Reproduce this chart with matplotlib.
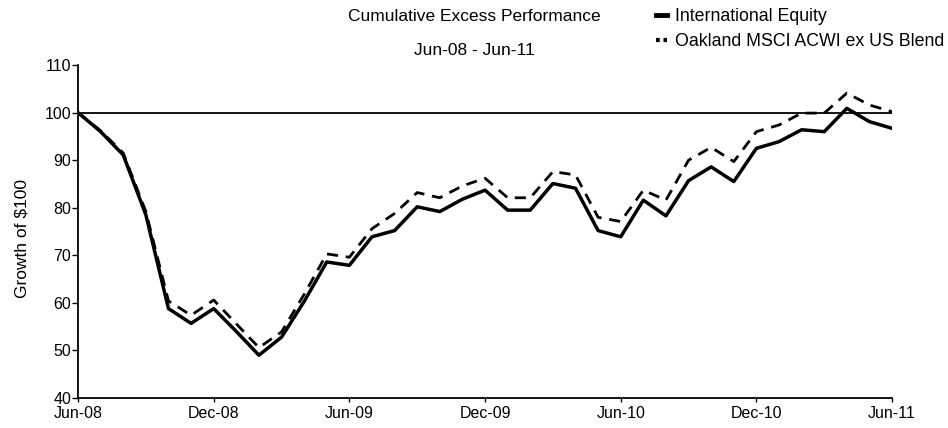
import numpy as np
import pandas as pd
import matplotlib.pyplot as plt
from matplotlib.lines import Line2D

plt.rcParams['font.family'] = ['Liberation Sans', 'DejaVu Sans']

# month-end values, growth of $100 from Jun-08
months = pd.date_range('2008-06-30', '2011-06-30', freq='ME')
intl_equity = [100.0, 96.0, 91.1, 78.5, 58.8, 55.7, 58.8, 54.0, 49.0, 52.8,
               60.3, 68.6, 67.9, 73.9, 75.2, 80.2, 79.2, 81.8, 83.7, 79.5,
               79.5, 85.1, 84.1, 75.2, 73.9, 81.6, 78.3, 85.7, 88.6, 85.5,
               92.5, 93.9, 96.4, 96.0, 100.9, 98.1, 96.7]
oakland_blend = [100.0, 96.2, 91.5, 79.2, 60.4, 57.4, 60.6, 55.6, 50.6, 53.9,
                 61.8, 70.3, 69.6, 75.6, 78.8, 83.2, 82.1, 84.6, 86.2, 82.1,
                 82.1, 87.6, 86.9, 78.0, 77.1, 83.7, 81.6, 90.0, 92.7, 89.7,
                 96.0, 97.4, 99.9, 99.9, 104.1, 101.6, 100.2]
tick_labels = ['Jun-08', 'Dec-08', 'Jun-09', 'Dec-09', 'Jun-10', 'Dec-10', 'Jun-11']

x = np.arange(len(months))

fig = plt.figure(figsize=(9.48, 4.28), dpi=100)
ax = fig.add_axes([0.0823, 0.070, 0.8587, 0.778])

ax.axhline(100, color='black', lw=1.3, zorder=1)
ax.plot(x, oakland_blend, color='black', lw=2.0, ls=(0, (4, 2.8)), zorder=2)
ax.plot(x, intl_equity, color='black', lw=2.5, zorder=3)

ax.set_xlim(0, len(months) - 1)
ax.set_ylim(40, 110)
ax.set_yticks(range(40, 111, 10))
ax.set_xticks(x[::6])
ax.set_xticklabels(tick_labels)
ax.tick_params(labelsize=11.5, width=1, colors='black')
ax.tick_params(axis='y', length=4, pad=1)
ax.tick_params(axis='x', length=3, pad=2.5)

for side in ('top', 'right'):
    ax.spines[side].set_visible(False)
for side in ('left', 'bottom'):
    ax.spines[side].set_linewidth(1.3)

ax.set_ylabel('Growth of $100', fontsize=12.5, labelpad=10)
ax.yaxis.set_label_coords(-0.06, 0.48)

fig.text(0.50, 0.962, 'Cumulative Excess Performance', ha='center', va='center', fontsize=12.5)
fig.text(0.50, 0.882, 'Jun-08 - Jun-11', ha='center', va='center', fontsize=12.5)

handles = [Line2D([], [], color='black', lw=3.5),
           Line2D([], [], color='black', lw=3, ls=(0, (0.9, 0.9)))]
fig.legend(handles, ['International Equity', 'Oakland MSCI ACWI ex US Blend'],
           loc='upper left', bbox_to_anchor=(0.685, 0.997), frameon=False,
           fontsize=12.8, handlelength=0.6, handletextpad=0.45, labelspacing=0.45,
           borderaxespad=0)

fig.savefig('out.png', dpi=100)
